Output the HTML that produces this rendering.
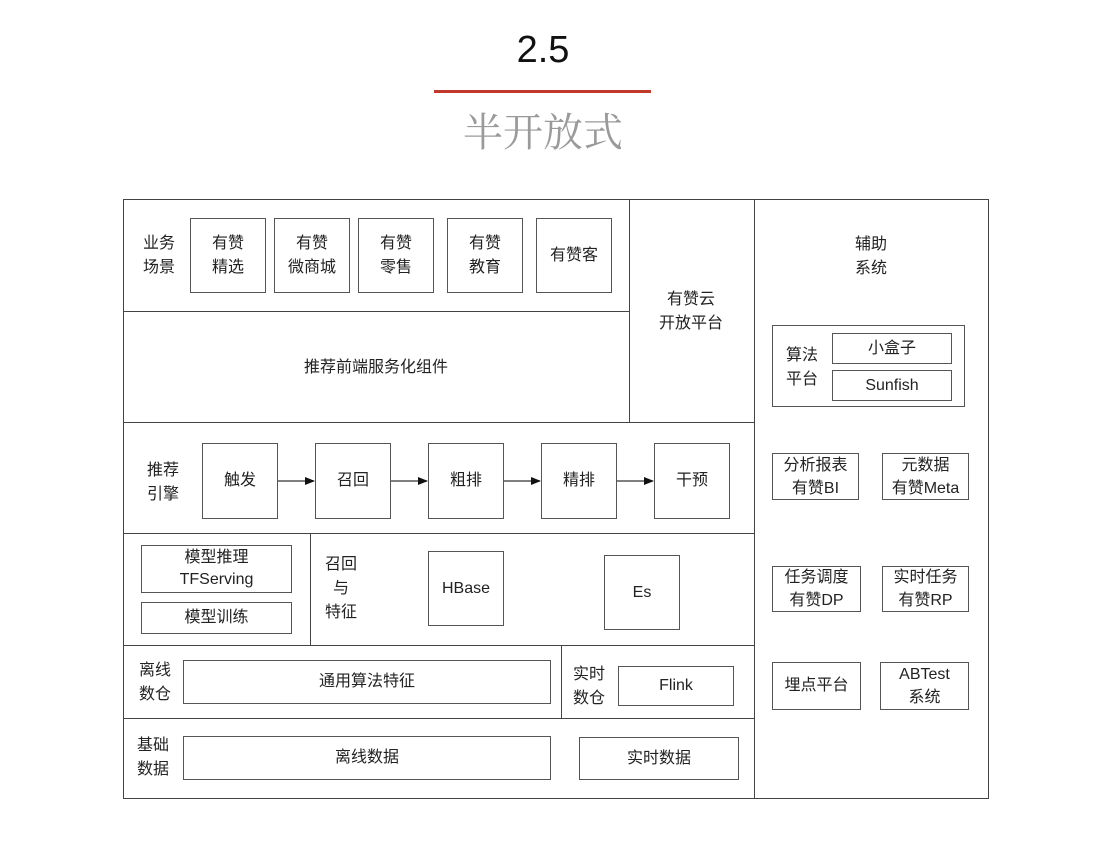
<!DOCTYPE html>
<html><head><meta charset="utf-8"><style>
body{margin:0;width:1098px;height:846px;background:#fff;position:relative;overflow:hidden;font-family:"Liberation Sans","Noto Sans CJK SC",sans-serif;color:#222}
.b{position:absolute;border:1.5px solid #555;box-sizing:border-box;display:flex;align-items:center;justify-content:center;text-align:center;font-size:16px;line-height:24px;background:#fff}
.t{position:absolute;font-size:16px;line-height:24px;text-align:center;transform:translate(-50%,-50%);white-space:nowrap}
.h{position:absolute;height:0;border-top:1.5px solid #444}
.v{position:absolute;width:0;border-left:1.5px solid #444}
</style></head><body>
<div class="t" style="left:543px;top:50px;font-size:38px;line-height:40px;color:#111">2.5</div>
<div style="position:absolute;left:434px;top:90px;width:217px;height:3px;background:#c0392b"></div>
<div class="t" style="left:543px;top:133px;font-size:40px;line-height:44px;color:#9a9a9a;font-family:'Liberation Serif','Noto Serif CJK SC',serif">半开放式</div>

<div style="position:absolute;left:123px;top:199px;width:866px;height:600px;border:1.5px solid #444;box-sizing:border-box"></div>
<div class="v" style="left:754px;top:199px;height:600px"></div>
<div class="v" style="left:629px;top:199px;height:223px"></div>
<div class="h" style="left:123px;top:311px;width:506px"></div>
<div class="h" style="left:123px;top:422px;width:631px"></div>
<div class="h" style="left:123px;top:533px;width:631px"></div>
<div class="h" style="left:123px;top:645px;width:631px"></div>
<div class="h" style="left:123px;top:718px;width:631px"></div>
<div class="v" style="left:310px;top:533px;height:112px"></div>
<div class="v" style="left:561px;top:645px;height:73px"></div>

<div class="t" style="left:159px;top:256px">业务<br>场景</div>
<div class="b" style="left:190px;top:218px;width:76px;height:75px">有赞<br>精选</div>
<div class="b" style="left:274px;top:218px;width:76px;height:75px">有赞<br>微商城</div>
<div class="b" style="left:358px;top:218px;width:76px;height:75px">有赞<br>零售</div>
<div class="b" style="left:447px;top:218px;width:76px;height:75px">有赞<br>教育</div>
<div class="b" style="left:536px;top:218px;width:76px;height:75px">有赞客</div>
<div class="t" style="left:376px;top:368px">推荐前端服务化组件</div>
<div class="t" style="left:691px;top:312px">有赞云<br>开放平台</div>

<div class="t" style="left:163px;top:483px">推荐<br>引擎</div>
<div class="b" style="left:202px;top:443px;width:76px;height:76px">触发</div>
<div class="b" style="left:315px;top:443px;width:76px;height:76px">召回</div>
<div class="b" style="left:428px;top:443px;width:76px;height:76px">粗排</div>
<div class="b" style="left:541px;top:443px;width:76px;height:76px">精排</div>
<div class="b" style="left:654px;top:443px;width:76px;height:76px">干预</div>
<svg style="position:absolute;left:0;top:0" width="1098" height="846">
<defs><marker id="a" markerWidth="10" markerHeight="8" refX="9" refY="4" orient="auto" markerUnits="userSpaceOnUse"><path d="M0,0 L10,4 L0,8z" fill="#111"/></marker></defs>
<g stroke="#333" stroke-width="1.3" marker-end="url(#a)">
<line x1="278" y1="481" x2="314" y2="481"/><line x1="391" y1="481" x2="427" y2="481"/>
<line x1="504" y1="481" x2="540" y2="481"/><line x1="617" y1="481" x2="653" y2="481"/></g></svg>

<div class="b" style="left:141px;top:545px;width:151px;height:48px;line-height:22px">模型推理<br>TFServing</div>
<div class="b" style="left:141px;top:602px;width:151px;height:32px">模型训练</div>
<div class="t" style="left:341px;top:589px">召回<br>与<br>特征</div>
<div class="b" style="left:428px;top:551px;width:76px;height:75px">HBase</div>
<div class="b" style="left:604px;top:555px;width:76px;height:75px">Es</div>

<div class="t" style="left:155px;top:683px">离线<br>数仓</div>
<div class="b" style="left:183px;top:660px;width:368px;height:44px">通用算法特征</div>
<div class="t" style="left:589px;top:687px">实时<br>数仓</div>
<div class="b" style="left:618px;top:666px;width:116px;height:40px">Flink</div>

<div class="t" style="left:153px;top:758px">基础<br>数据</div>
<div class="b" style="left:183px;top:736px;width:368px;height:44px">离线数据</div>
<div class="b" style="left:579px;top:737px;width:160px;height:43px">实时数据</div>

<div class="t" style="left:871px;top:257px">辅助<br>系统</div>
<div class="b" style="left:772px;top:325px;width:193px;height:82px"></div>
<div class="t" style="left:802px;top:368px">算法<br>平台</div>
<div class="b" style="left:832px;top:333px;width:120px;height:31px">小盒子</div>
<div class="b" style="left:832px;top:370px;width:120px;height:31px">Sunfish</div>
<div class="b" style="left:772px;top:453px;width:87px;height:47px;line-height:23px">分析报表<br>有赞BI</div>
<div class="b" style="left:882px;top:453px;width:87px;height:47px;line-height:23px">元数据<br>有赞Meta</div>
<div class="b" style="left:772px;top:566px;width:89px;height:46px;line-height:23px">任务调度<br>有赞DP</div>
<div class="b" style="left:882px;top:566px;width:87px;height:46px;line-height:23px">实时任务<br>有赞RP</div>
<div class="b" style="left:772px;top:662px;width:89px;height:48px">埋点平台</div>
<div class="b" style="left:880px;top:662px;width:89px;height:48px;line-height:23px">ABTest<br>系统</div>
</body></html>
